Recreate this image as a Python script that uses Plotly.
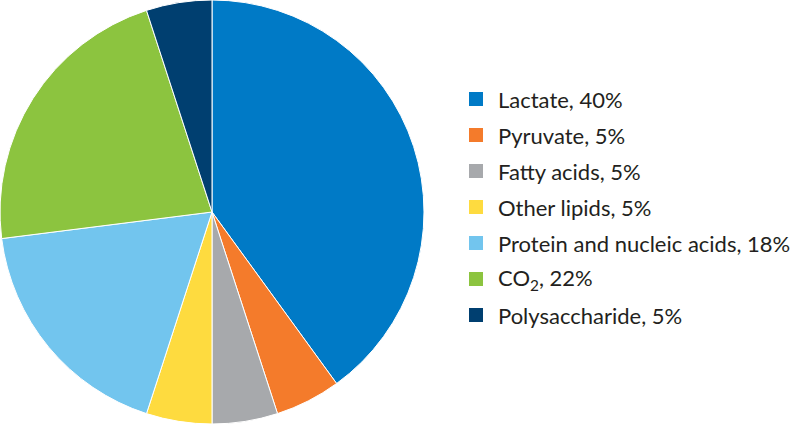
import plotly.graph_objects as go

labels = ["Lactate", "Pyruvate", "Fatty acids", "Other lipids",
          "Protein and nucleic acids", "CO<sub>2</sub>", "Polysaccharide"]
values = [40, 5, 5, 5, 18, 22, 5]
colors = ["#007AC6", "#F47B2B", "#A7A9AC", "#FEDB3F", "#72C5EE", "#8CC43F", "#003F70"]
legend_text = [f"{l}, {v}%" for l, v in zip(labels, values)]
rows = list(range(len(labels)))

fig = go.Figure()
fig.add_trace(go.Pie(
    labels=labels, values=values, sort=False, direction="clockwise", rotation=0,
    marker=dict(colors=colors, line=dict(color="white", width=1)),
    textinfo="none", hoverinfo="label+percent", showlegend=False,
    domain=dict(x=[0, 424/800], y=[0, 1]),
))
# legend swatches
fig.add_trace(go.Scatter(
    x=[16]*len(rows), y=rows, mode="markers",
    marker=dict(symbol="square", size=14, color=colors, line=dict(width=0)),
    xaxis="x", yaxis="y", showlegend=False, hoverinfo="skip",
))
for r, t in zip(rows, legend_text):
    fig.add_annotation(x=36, y=r, xref="x", yref="y", text=t, showarrow=False,
                       xanchor="left", yanchor="middle",
                       font=dict(family="Lato", size=22, color="#231F20"))

fig.update_layout(
    width=800, height=424, margin=dict(l=0, r=0, t=0, b=0),
    paper_bgcolor="white", plot_bgcolor="rgba(0,0,0,0)",
    xaxis=dict(domain=[460/800, 1], range=[0, 340], visible=False, fixedrange=True),
    yaxis=dict(domain=[0, 1], range=[(424-99)/36, -99/36], visible=False, fixedrange=True),
)
fig.write_html("out.html", config={"displayModeBar": False},
               post_script="document.body.style.margin='0';")
